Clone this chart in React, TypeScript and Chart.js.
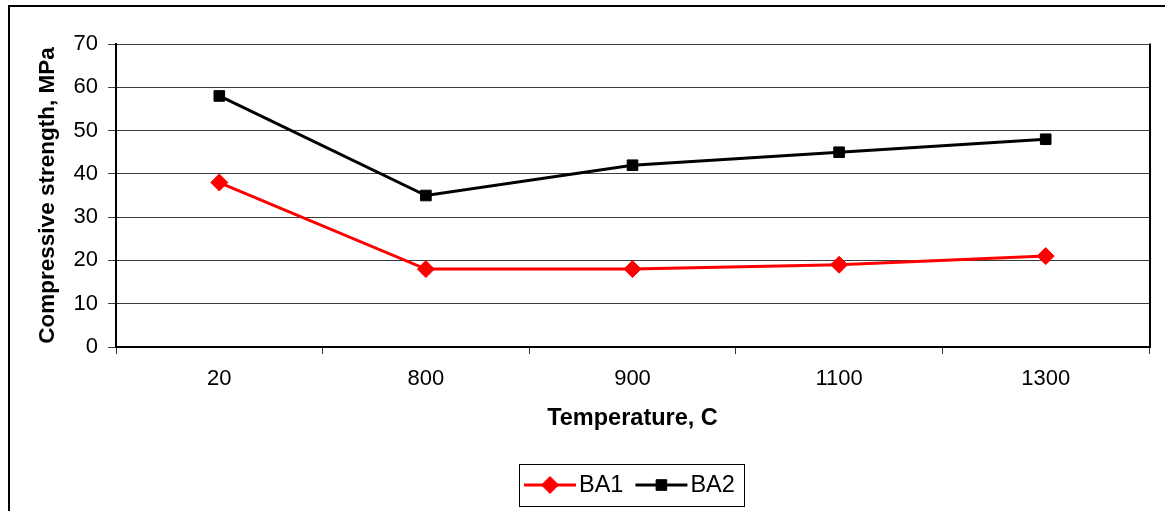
import React, { useEffect, useRef } from 'react';
import { Chart, registerables } from 'chart.js';

Chart.register(...registerables);

const categories = ['20', '800', '900', '1100', '1300'];
const ba1Values = [38, 18, 18, 19, 21];
const ba2Values = [58, 35, 42, 45, 48];
const seriesNames = ['BA1', 'BA2'];
const yMin = 0;
const yMax = 70;
const yStep = 10;
const xTitle = 'Temperature, C';
const yTitle = 'Compressive strength, MPa';

const FONT = '"Liberation Sans", Arial, Helvetica, sans-serif';
const W = 1165;
const H = 511;

function drawMarker(ctx: CanvasRenderingContext2D, style: string, x: number, y: number, r: number, color: string) {
  ctx.save();
  ctx.fillStyle = color;
  ctx.strokeStyle = color;
  ctx.lineWidth = 1;
  ctx.beginPath();
  if (style === 'rectRot') {
    ctx.moveTo(x - r, y);
    ctx.lineTo(x, y - r);
    ctx.lineTo(x + r, y);
    ctx.lineTo(x, y + r);
    ctx.closePath();
  } else {
    const s = r * Math.SQRT1_2;
    ctx.rect(x - s, y - s, 2 * s, 2 * s);
  }
  ctx.fill();
  ctx.stroke();
  ctx.restore();
}

const framePlugin = {
  id: 'excelFrame',
  beforeDraw(chart: any) {
    const ctx = chart.ctx;
    ctx.save();
    ctx.fillStyle = '#ffffff';
    ctx.fillRect(0, 0, chart.width, chart.height);
    ctx.restore();
  },
  afterDraw(chart: any) {
    const { ctx, chartArea } = chart;
    ctx.save();
    // outer chart frame (cropped on right/bottom)
    ctx.strokeStyle = '#000';
    ctx.lineWidth = 2;
    ctx.beginPath();
    ctx.moveTo(9, H + 2);
    ctx.lineTo(9, 6);
    ctx.lineTo(W + 2, 6);
    ctx.stroke();
    // right plot border
    ctx.beginPath();
    ctx.moveTo(chartArea.right + 1, chartArea.top - 0.5);
    ctx.lineTo(chartArea.right + 1, chartArea.bottom + 1);
    ctx.stroke();

    // legend
    const ds = chart.data.datasets;
    ctx.font = `23.5px ${FONT}`;
    ctx.textBaseline = 'middle';
    ctx.textAlign = 'left';
    const lineLen = 52;
    const gapText = 3;
    const gapItem = 12;
    const padL = 5;
    const padR = 9;
    let total = padL;
    const widths = ds.map((d: any) => ctx.measureText(d.label).width);
    ds.forEach((d: any, i: number) => {
      total += lineLen + gapText + widths[i];
      if (i < ds.length - 1) total += gapItem;
    });
    total += padR;
    const boxTop = 464;
    const boxH = 42;
    const cx = (chartArea.left + chartArea.right) / 2 - 1;
    const boxLeft = Math.round(cx - total / 2);
    const cy = 485;
    ctx.strokeStyle = '#000';
    ctx.lineWidth = 1;
    ctx.strokeRect(boxLeft + 0.5, boxTop + 0.5, Math.round(total), boxH);
    let x = boxLeft + padL;
    ds.forEach((d: any, i: number) => {
      ctx.strokeStyle = d.borderColor;
      ctx.lineWidth = 3;
      ctx.beginPath();
      ctx.moveTo(x, cy);
      ctx.lineTo(x + lineLen, cy);
      ctx.stroke();
      drawMarker(ctx, d.pointStyle, x + lineLen / 2, cy, d.pointRadius, d.borderColor);
      x += lineLen + gapText;
      ctx.fillStyle = '#000';
      ctx.fillText(d.label, x, cy + 1);
      x += widths[i] + gapItem;
    });
    ctx.restore();
  },
};

export default function App() {
  const ref = useRef<HTMLCanvasElement | null>(null);
  useEffect(() => {
    if (!ref.current) return;
    const chart = new Chart(ref.current, {
      type: 'line',
      data: {
        labels: categories,
        datasets: [
          {
            label: seriesNames[0],
            data: ba1Values,
            borderColor: '#ff0000',
            backgroundColor: '#ff0000',
            borderWidth: 3,
            pointStyle: 'rectRot',
            pointRadius: 8.5,
            pointBorderWidth: 1,
            pointHoverRadius: 8.5,
            tension: 0,
          },
          {
            label: seriesNames[1],
            data: ba2Values,
            borderColor: '#000000',
            backgroundColor: '#000000',
            borderWidth: 3,
            pointStyle: 'rect',
            pointRadius: 7.5,
            pointBorderWidth: 1,
            pointHoverRadius: 7.5,
            tension: 0,
          },
        ],
      },
      options: {
        responsive: false,
        animation: false,
        events: [],
        layout: { padding: { left: 0, right: 16, top: 44, bottom: 74 } },
        plugins: {
          legend: { display: false },
          tooltip: { enabled: false },
          title: { display: false },
        },
        scales: {
          x: {
            type: 'category',
            offset: true,
            afterFit: (s: any) => { s.height = 90; },
            grid: {
              display: true,
              offset: true,
              drawOnChartArea: false,
              drawTicks: true,
              tickLength: 7,
              color: '#333333',
              lineWidth: 1,
            },
            border: { display: true, color: '#000000', width: 2 },
            ticks: {
              color: '#000',
              font: { family: FONT, size: 22 },
              padding: 12,
              maxRotation: 0,
              autoSkip: false,
            },
            title: {
              display: true,
              text: xTitle,
              color: '#000',
              font: { family: FONT, size: 23.5, weight: 'bold' },
              padding: { top: 0, bottom: 4 },
            },
          },
          y: {
            min: yMin,
            max: yMax,
            afterFit: (s: any) => { s.width = 116; },
            grid: {
              color: '#3c3c3c',
              lineWidth: 1,
              tickLength: 8,
              drawTicks: true,
            },
            border: { display: true, color: '#000000', width: 2 },
            ticks: {
              stepSize: yStep,
              color: '#000',
              font: { family: FONT, size: 22 },
              padding: 10,
            },
            title: {
              display: true,
              text: yTitle,
              color: '#000',
              font: { family: FONT, size: 22.5, weight: 'bold' },
              padding: { top: 34, bottom: 0 },
            },
          },
        },
      },
      plugins: [framePlugin],
    } as any);
    return () => chart.destroy();
  }, []);
  return (
    <div style={{ position: 'absolute', left: 0, top: 0, width: W, height: H, background: '#fff' }}>
      <canvas ref={ref} width={W} height={H} style={{ display: 'block', width: W, height: H }} />
    </div>
  );
}
